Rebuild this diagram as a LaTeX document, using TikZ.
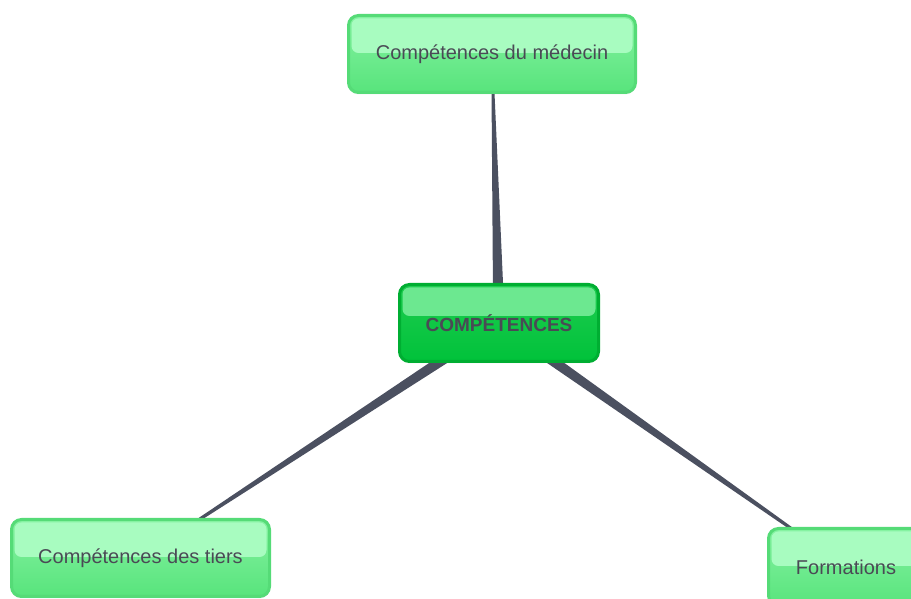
\documentclass[tikz,border=0pt]{standalone}
\usepackage{fontspec}
\setmainfont{Liberation Sans}
\usetikzlibrary{positioning,calc,shadows,backgrounds}

\definecolor{leafhi}{HTML}{A8FCC0}
\definecolor{leaftop}{HTML}{86F2A2}
\definecolor{leafbot}{HTML}{58E47C}
\definecolor{leafborder}{HTML}{55DB77}
\definecolor{roothi}{HTML}{6CE890}
\definecolor{roottop}{HTML}{1FCC50}
\definecolor{rootbot}{HTML}{00C23A}
\definecolor{rootborder}{HTML}{00AE32}
\definecolor{txtgray}{HTML}{4A4A55}
\definecolor{linkgray}{HTML}{4B5060}

\tikzstyle{box} = [rectangle, rounded corners=10pt, minimum height=77pt, line width=3pt, text=txtgray, text centered, drop shadow={opacity=0.12, shadow xshift=0pt, shadow yshift=-2pt}]
\tikzstyle{box-leaf} = [box, draw=leafborder, top color=leaftop, bottom color=leafbot, font=\fontsize{20}{24}\selectfont,
  path picture={\fill[leafhi, rounded corners=7pt] ([xshift=3pt,yshift=-3pt]path picture bounding box.north west) rectangle ([xshift=-3pt,yshift=1pt]path picture bounding box.east);}]
\tikzstyle{box-root} = [box, draw=rootborder, top color=roottop, bottom color=rootbot, font=\fontsize{19}{23}\selectfont\bfseries,
  path picture={\fill[roothi, rounded corners=7pt] ([xshift=3pt,yshift=-3pt]path picture bounding box.north west) rectangle ([xshift=-3pt,yshift=7pt]path picture bounding box.east);}]
\tikzstyle{link} = [fill=linkgray]

\begin{document}
\begin{tikzpicture}[x=1pt, y=1pt]
  \useasboundingbox (0,0) rectangle (911,599);

  \node (comp) [box-root, minimum width=199pt] at (499,276) {COMPÉTENCES};
  \node (medecin) [box-leaf, minimum width=287pt, node distance=269pt, above of=comp, xshift=-7pt] {Compétences du médecin};
  \node (tiers) [box-leaf, minimum width=258pt, node distance=235pt, below of=comp, xshift=-358.5pt] {Compétences des tiers};
  \node (formations) [box-leaf, minimum width=155pt, node distance=244pt, below of=comp, xshift=347pt] {Formations};

  \begin{pgfonlayer}{background}
    \foreach \kid in {medecin, tiers, formations}
      \fill [link] ($(comp)!5.8pt!90:(\kid)$) -- ($(\kid)!0.75pt!-90:(comp)$) -- ($(\kid)!0.75pt!90:(comp)$) -- ($(comp)!5.8pt!-90:(\kid)$) -- cycle;
  \end{pgfonlayer}
\end{tikzpicture}
\end{document}
